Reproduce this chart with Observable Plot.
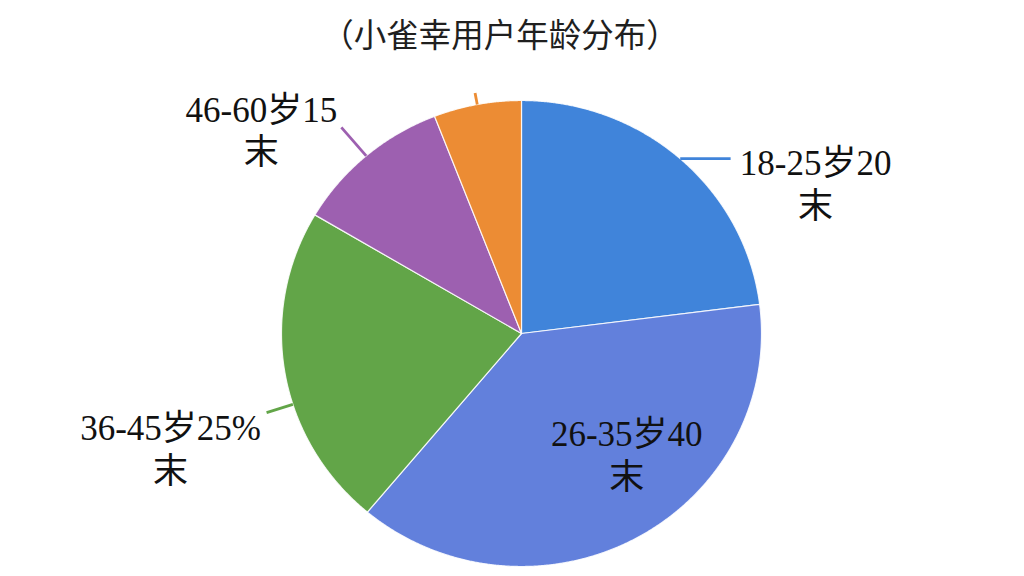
<!DOCTYPE html>
<html>
<head>
<meta charset="utf-8">
<script src="https://cdn.jsdelivr.net/npm/d3@7"></script>
<script src="https://cdn.jsdelivr.net/npm/@observablehq/plot@0.6"></script>
<style>
  html, body { margin: 0; padding: 0; background: #fff; }
  #title {
    width: 1024px; height: 66px; line-height: 66px; box-sizing: border-box;
    padding-right: 24px; text-align: center;
    font-family: "Noto Sans CJK SC", sans-serif; font-size: 32.5px; color: #1f1f1f;
  }
</style>
</head>
<body>
<div id="title">（小雀幸用户年龄分布）</div>
<div id="chart"></div>
<script>
// ---- data ----
const ages = ["18-25岁", "26-35岁", "36-45岁", "46-60岁", "60岁以上"];
const shares = [23.0, 38.1, 22.4, 10.6, 5.9];
const valueLabels = ["20\n末", "40\n末", "25%\n末", "15\n末", ""];
const colors = ["#4084da", "#6280dc", "#62a548", "#9d60b0", "#ec8c34"];

// ---- style config (leaders / label offsets in px) ----
const leaderStyle = [
  {kind: "h", len: 0.21, shift: 0},
  null,
  {kind: "r", len: 0.115, shift: -8},
  {kind: "r", len: 0.16, shift: 0},
  {kind: "r", len: 0.05, shift: 0}
];
const labelStyle = [
  {dx: 85, dy: -14},
  {dx: 42, dy: -30, inside: 0.55},
  {dx: -96, dy: -3},
  {dx: -80, dy: -36},
  null
];

const arcs = d3.pie().sort(null).value(d => d)(shares);

// slice outlines in unit-circle space (angle 0 at top, clockwise)
const slicePts = [];
arcs.forEach((a, i) => {
  const n = Math.max(4, Math.ceil((a.endAngle - a.startAngle) / (Math.PI / 720)));
  slicePts.push({age: ages[i], x: 0, y: 0});
  for (let k = 0; k <= n; k++) {
    const t = a.startAngle + (a.endAngle - a.startAngle) * k / n;
    slicePts.push({age: ages[i], x: Math.sin(t), y: Math.cos(t)});
  }
  slicePts.push({age: ages[i], x: 0, y: 0});
});

const leaders = [];
const labels = [];
arcs.forEach((a, i) => {
  const mid = (a.startAngle + a.endAngle) / 2;
  const ls = leaderStyle[i];
  let ax, ay;
  if (ls) {
    const t = mid + ls.shift * Math.PI / 180;
    const x1 = Math.sin(t), y1 = Math.cos(t);
    let x2, y2;
    if (ls.kind === "h") { x2 = x1 + ls.len; y2 = y1; }
    else { x2 = x1 * (1 + ls.len); y2 = y1 * (1 + ls.len); }
    leaders.push({age: ages[i], x1, y1, x2, y2});
    ax = x2; ay = y2;
  }
  const st = labelStyle[i];
  if (st && valueLabels[i]) {
    if (st.inside) { ax = Math.sin(mid) * st.inside; ay = Math.cos(mid) * st.inside; }
    labels.push({text: ages[i] + valueLabels[i], x: ax, y: ay, dx: st.dx, dy: st.dy});
  }
});

const chart = Plot.plot({
  width: 1024,
  height: 510,
  margin: 0,
  x: {domain: [-1, 1], range: [281, 761], axis: null},
  y: {domain: [-1, 1], range: [500, 34], axis: null},
  color: {domain: ages, range: colors},
  marks: [
    Plot.line(slicePts, {x: "x", y: "y", z: "age", fill: "age", stroke: "#ffffff", strokeWidth: 1.2, strokeOpacity: 0.85, curve: "linear"}),
    Plot.link(leaders, {x1: "x1", y1: "y1", x2: "x2", y2: "y2", stroke: "age", strokeWidth: 2.8, strokeLinecap: "butt"}),
    ...labels.map(l => Plot.text([l], {
      x: "x", y: "y", text: "text", dx: l.dx, dy: l.dy,
      lineAnchor: "top", textAnchor: "middle", lineHeight: 1.22,
      fontSize: 35, fill: "#111",
      fontFamily: "'Liberation Serif', 'Noto Sans CJK SC', serif"
    }))
  ]
});
document.getElementById("chart").appendChild(chart);
</script>
</body>
</html>
